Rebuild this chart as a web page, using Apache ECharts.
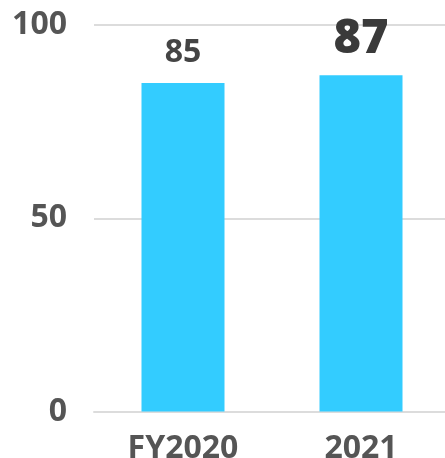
<!DOCTYPE html>
<html>
<head>
<meta charset="utf-8">
<script src="https://cdn.jsdelivr.net/npm/echarts@6/dist/echarts.min.js"></script>
<style>
  html, body { margin: 0; padding: 0; background: #fff; }
  #chart { width: 445px; height: 458px; }
</style>
</head>
<body>
<div id="chart"></div>
<script>
const categories = ['FY2020', '2021'];
const values = [85, 87];
const yTicks = [0, 50, 100];

const chart = echarts.init(document.getElementById('chart'));

const font = '"Noto Sans", sans-serif';

const option = {
  animation: false,
  grid: { left: 94, right: -5, top: 25, bottom: 46.5, containLabel: false, outerBoundsMode: 'none' },
  xAxis: {
    type: 'category',
    data: categories,
    axisTick: { show: false },
    axisLine: { show: true, lineStyle: { color: '#dcdcdc', width: 2 } },
    axisLabel: {
      color: '#555',
      fontSize: 32,
      fontWeight: 'bold',
      fontFamily: font,
      margin: 21,
    },
  },
  yAxis: {
    type: 'value',
    min: yTicks[0],
    max: yTicks[yTicks.length - 1],
    interval: 50,
    axisLine: { show: false },
    axisTick: { show: false },
    splitLine: { lineStyle: { color: '#dcdcdc', width: 2 } },
    axisLabel: {
      color: '#555',
      fontSize: 32,
      fontWeight: 'bold',
      fontFamily: font,
      margin: 27,
    },
  },
  series: [
    {
      type: 'bar',
      barWidth: 83,
      itemStyle: { color: '#33ccff' },
      label: {
        show: true,
        position: 'top',
        distance: 14,
        color: '#444',
        fontSize: 32,
        fontWeight: 'bold',
        fontFamily: font,
      },
      data: values.map((v, i) =>
        i === values.length - 1
          ? { value: v, label: { fontSize: 47, fontWeight: 900, color: '#3a3a3a', distance: 12 } }
          : v
      ),
    },
  ],
};

chart.setOption(option);
</script>
</body>
</html>
